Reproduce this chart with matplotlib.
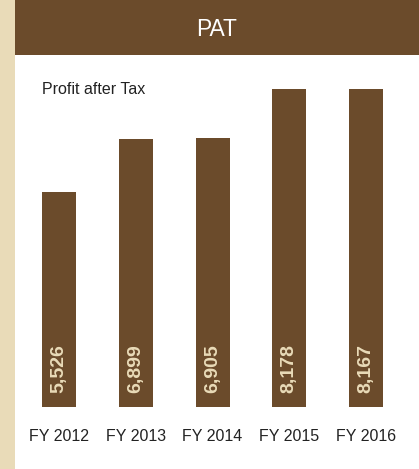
import matplotlib
matplotlib.use("Agg")
import matplotlib.pyplot as plt
from matplotlib.patches import Rectangle

categories = ["FY 2012", "FY 2013", "FY 2014", "FY 2015", "FY 2016"]
values = [5526, 6899, 6905, 8178, 8167]
value_labels = ["5,526", "6,899", "6,905", "8,178", "8,167"]
title = "PAT"
subtitle = "Profit after Tax"

BROWN = "#6b4b2b"
BEIGE = "#e9dbb8"
W, H = 419, 469
FONT = ["Liberation Sans", "DejaVu Sans"]

fig = plt.figure(figsize=(W / 100, H / 100), dpi=100, facecolor="white")

# left beige strip and header band
fig.patches.append(Rectangle((0, 0), 15 / W, 1, transform=fig.transFigure,
                             facecolor=BEIGE, edgecolor="none", zorder=0))
fig.patches.append(Rectangle((15 / W, (H - 55) / H), 1 - 15 / W, 55 / H,
                             transform=fig.transFigure, facecolor=BROWN,
                             edgecolor="none", zorder=0))
fig.text((15 + W) / 2 / W, 1 - 29 / H, title, color="white", fontsize=16.5,
         ha="center", va="center", family=FONT)
fig.text(42 / W, 1 - 89 / H, subtitle, color="#222222", fontsize=11.5,
         ha="left", va="center", family=FONT)

# plot axes: baseline at y=407px, scale 0.0389 px per unit
scale = 0.0389
ax = fig.add_axes([15 / W, (H - 407) / H, (W - 15) / W, (407 - 55) / H])
ax.set_facecolor("none")
x = list(range(len(categories)))
ax.bar(x, values, width=0.443, color=BROWN)
ax.set_xlim(-0.573, 4.69)
ax.set_ylim(0, (407 - 55) / scale)
for s in ax.spines.values():
    s.set_visible(False)
ax.set_yticks([])
ax.set_xticks(x)
ax.set_xticklabels(categories, fontsize=11.5, color="#222222", family=FONT)
ax.tick_params(axis="x", length=0, pad=15.5)
for xi, lab in zip(x, value_labels):
    ax.text(xi, 14 / scale, lab, rotation=90, ha="center", va="bottom",
            color=BEIGE, fontsize=14, fontweight="bold", family=FONT)

fig.savefig("out.png", dpi=100, facecolor="white")
